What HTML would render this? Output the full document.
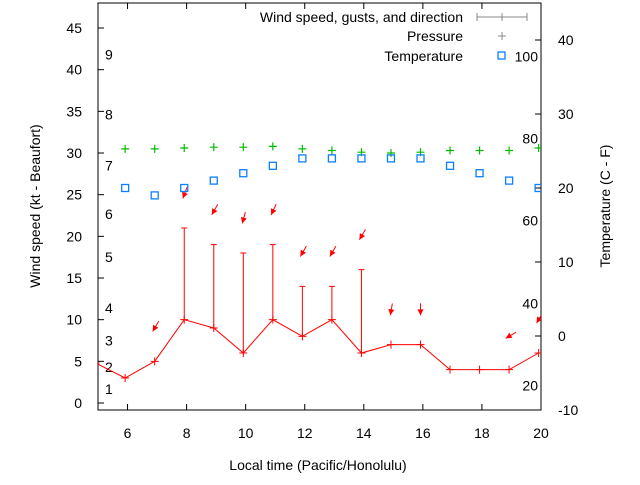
<!DOCTYPE html>
<html><head><meta charset="utf-8"><style>
body{margin:0;background:#fff;}
svg text{font-family:"Liberation Sans",sans-serif;font-size:14px;fill:#000;}
</style></head><body>
<svg id="c" width="640" height="480">
<defs><clipPath id="clip"><rect x="98" y="3" width="443" height="407"/></clipPath></defs>
<rect x="98" y="3" width="443" height="407" fill="none" stroke="#000"/>
<g id="axes"></g>
<g id="marks" clip-path="url(#clip)"></g>
<text x="0" y="0" transform="translate(40,206) rotate(-90)" text-anchor="middle">Wind speed (kt - Beaufort)</text>
<text x="0" y="0" transform="translate(610,206) rotate(-90)" text-anchor="middle">Temperature (C - F)</text>
<text x="318" y="470" text-anchor="middle">Local time (Pacific/Honolulu)</text>
<g>
<text x="463" y="22" text-anchor="end">Wind speed, gusts, and direction</text>
<line x1="477" y1="17" x2="527" y2="17" stroke="#888"/><line x1="477" y1="13" x2="477" y2="21" stroke="#888"/><line x1="527" y1="13" x2="527" y2="21" stroke="#888"/><line x1="502" y1="13" x2="502" y2="21" stroke="#888"/>
<text x="463" y="41" text-anchor="end">Pressure</text>
<path d="M498 36h8M502 32v8" stroke="#888"/>
<text x="463" y="61" text-anchor="end">Temperature</text>
<rect x="498" y="52" width="7" height="7" fill="none" stroke="#0a7fff" stroke-width="1.3"/>
</g>
</svg>
<script>
const hours=[4.92,5.92,6.92,7.92,8.92,9.92,10.92,11.92,12.92,13.92,14.92,15.92,16.92,17.92,18.92,19.92];
const windKt=[4.8,3,5,10,9,6,10,8,10,6,7,7,4,4,4,6];
const gustKt=[null,null,null,21,19,18,19,14,14,16,null,null,null,null,null,null];
const dirDeg=[null,null,30,20,30,15,25,30,30,30,10,0,null,null,60,30];
const pressure=[null,30.5,30.5,30.6,30.7,30.7,30.8,30.5,30.3,30.1,30.0,30.1,30.3,30.3,30.3,30.6];
const tempC=[null,20,19,20,21,22,23,24,24,24,24,24,23,22,21,20];
const xTicks=[6,8,10,12,14,16,18,20];
const yTicks=[0,5,10,15,20,25,30,35,40,45];
const y2Ticks=[-10,0,10,20,30,40];
const beaufort=[[1,1.7],[2,4.3],[3,7.5],[4,11.4],[5,17.5],[6,22.7],[7,28.5],[8,34.6],[9,41.8]];
const fahr=[[20,-6.7],[40,4.4],[60,15.6],[80,26.7],[100,37.8]];
const X=h=>98+(h-5)/15*443;
const Y=v=>403-v*8.333;
const Y2=t=>336-t*7.4;
const NS='http://www.w3.org/2000/svg';
const ax=document.getElementById('axes'),mk=document.getElementById('marks');
function el(p,t,a,txt){const e=document.createElementNS(NS,t);for(const k in a)e.setAttribute(k,a[k]);if(txt!==undefined)e.textContent=txt;p.appendChild(e);return e;}
xTicks.forEach(h=>{const x=X(h);el(ax,'line',{x1:x,y1:410,x2:x,y2:404,stroke:'#000'});el(ax,'line',{x1:x,y1:3,x2:x,y2:9,stroke:'#000'});
const t=el(ax,'text',{x:x,y:438,'text-anchor':'middle'},h);

});
yTicks.forEach(v=>{const y=Y(v);el(ax,'line',{x1:98,y1:y,x2:104,y2:y,stroke:'#000'});
const t=el(ax,'text',{x:82,y:y+5,'text-anchor':'end'},v);

});
y2Ticks.forEach(v=>{const y=Y2(v);el(ax,'line',{x1:541,y1:y,x2:535,y2:y,stroke:'#000'});
const t=el(ax,'text',{x:558,y:y+5},v);

});
beaufort.forEach(b=>{const t=el(ax,'text',{x:105,y:Y(b[1])+5},b[0]);

});
fahr.forEach(f=>{const t=el(ax,'text',{x:538,y:Y2(f[1])+5,'text-anchor':'end'},f[0]);

});
// wind line
const line=el(mk,'polyline',{points:hours.map((h,i)=>X(h)+','+Y(windKt[i])).join(' '),fill:'none',stroke:'#f00'});


hours.forEach((h,i)=>{const x=X(h),y=Y(windKt[i]);
const p=el(mk,'path',{d:`M${x-4} ${y}h8M${x} ${y-4}v8`,stroke:'#f00'});


if(gustKt[i]!=null){const g=el(mk,'path',{d:`M${x} ${y}V${Y(gustKt[i])}M${x-3} ${Y(gustKt[i])}h6`,stroke:'#f00'});

}
if(dirDeg[i]!=null){const top=Math.max(windKt[i],gustKt[i]||0)+4;const cx=x,cy=Y(top);const r=dirDeg[i]*Math.PI/180;
const dx=Math.sin(r),dy=Math.cos(r);const x0=cx+dx*8,y0=cy-dy*8,x1=cx-dx*4,y1=cy+dy*4;
const px=-dy,py=-dx;
const a=el(mk,'g',{});


el(a,'line',{x1:x0,y1:y0,x2:x1,y2:y1,stroke:'#f00'});
el(a,'polygon',{points:`${x1},${y1} ${x1+dx*6+px*3},${y1-dy*6+py*3} ${x1+dx*6-px*3},${y1-dy*6-py*3}`,fill:'#f00'});}
if(pressure[i]!=null){const py2=Y(pressure[i]);const q=el(mk,'path',{d:`M${x-4} ${py2}h8M${x} ${py2-4}v8`,stroke:'#0b0','stroke-width':1.2});

}
if(tempC[i]!=null){const ty=Y2(tempC[i]);const s=el(mk,'rect',{x:x-3.5,y:ty-3.5,width:7,height:7,fill:'none',stroke:'#0a7fff','stroke-width':1.3});

}
});
</script>
</body></html>
